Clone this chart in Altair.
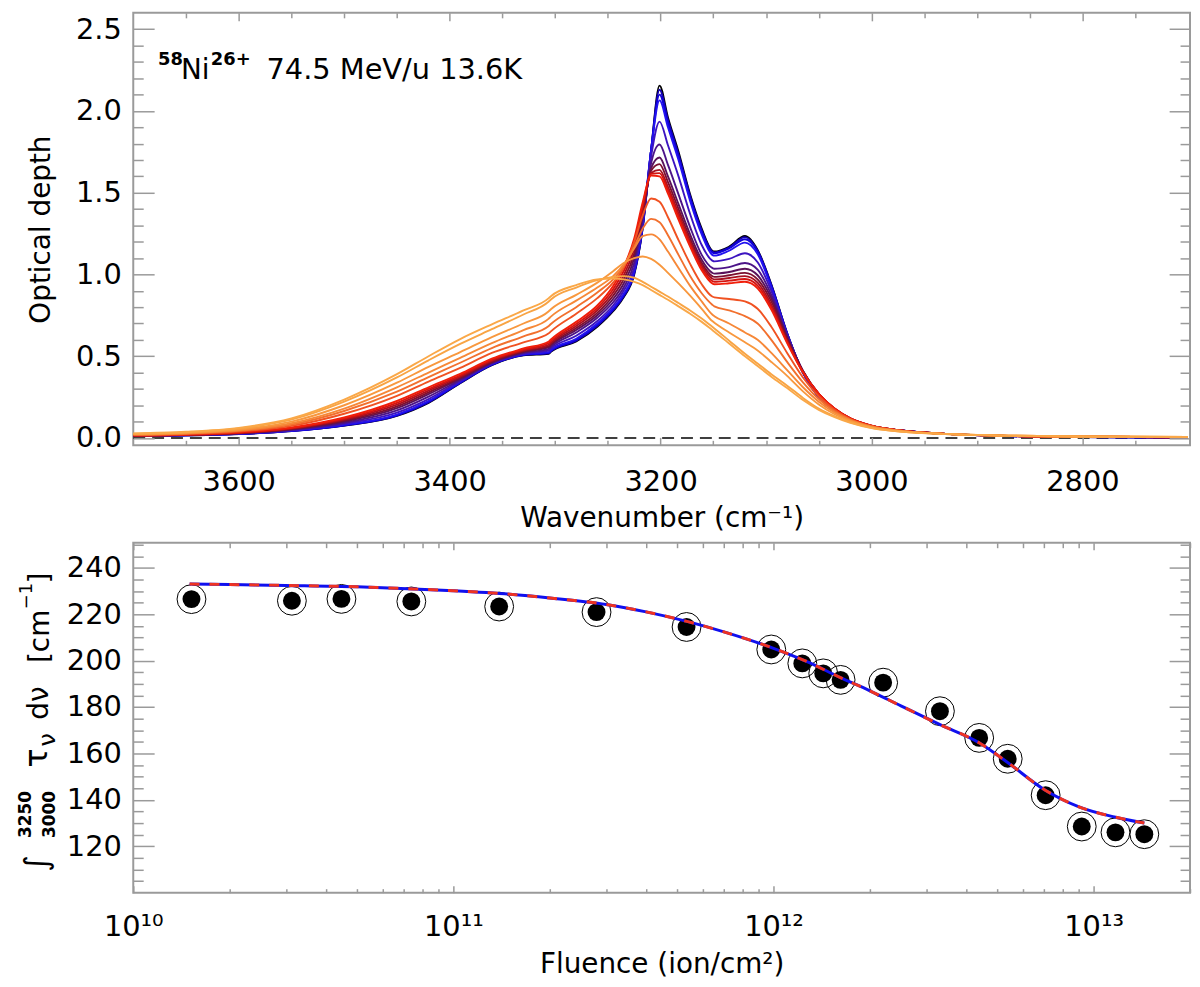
import altair as alt
import pandas as pd

# ------------------------------------------------------------------ data
WAVENUMBER = [3700, 3650, 3600, 3550, 3500, 3450, 3420, 3390, 3360, 3330, 3306, 3304,
              3280, 3260, 3245, 3235, 3225, 3217, 3209, 3201, 3193, 3183, 3172, 3161,
              3151, 3149, 3135, 3120, 3108, 3095, 3080, 3065, 3050, 3035, 3020, 3000,
              2970, 2930, 2870, 2800, 2700]

SPEC_00 = [0.012, 0.016, 0.024, 0.042, 0.075, 0.135, 0.215, 0.335, 0.445, 0.505, 0.515, 0.527,
           0.59, 0.68, 0.775, 0.86, 1.0, 1.28, 1.76, 2.155, 1.96, 1.75, 1.49, 1.28,
           1.145, 1.14, 1.17, 1.235, 1.15, 0.94, 0.64, 0.40, 0.25, 0.165, 0.11, 0.07,
           0.045, 0.025, 0.012, 0.006, 0.002]
SPEC_01 = [0.012, 0.016, 0.024, 0.042, 0.076, 0.137, 0.218, 0.337, 0.447, 0.507, 0.518, 0.530,
           0.595, 0.686, 0.781, 0.866, 1.005, 1.285, 1.76, 2.13, 1.945, 1.735, 1.48, 1.27,
           1.14, 1.135, 1.165, 1.228, 1.145, 0.935, 0.64, 0.40, 0.25, 0.165, 0.11, 0.07,
           0.045, 0.025, 0.012, 0.006, 0.002]
SPEC_02 = [0.012, 0.016, 0.025, 0.043, 0.078, 0.140, 0.222, 0.340, 0.449, 0.509, 0.521, 0.533,
           0.60, 0.692, 0.787, 0.872, 1.01, 1.29, 1.76, 2.10, 1.925, 1.72, 1.465, 1.26,
           1.135, 1.13, 1.16, 1.215, 1.14, 0.93, 0.64, 0.40, 0.25, 0.165, 0.11, 0.07,
           0.045, 0.025, 0.012, 0.006, 0.002]
SPEC_03 = [0.012, 0.016, 0.025, 0.044, 0.080, 0.143, 0.226, 0.343, 0.451, 0.511, 0.525, 0.537,
           0.607, 0.70, 0.795, 0.88, 1.02, 1.30, 1.76, 2.065, 1.90, 1.70, 1.45, 1.245,
           1.12, 1.115, 1.145, 1.195, 1.125, 0.92, 0.635, 0.40, 0.25, 0.165, 0.11, 0.07,
           0.045, 0.025, 0.012, 0.006, 0.002]
SPEC_04 = [0.013, 0.017, 0.027, 0.047, 0.087, 0.155, 0.238, 0.348, 0.455, 0.515, 0.535, 0.547,
           0.625, 0.715, 0.81, 0.90, 1.04, 1.31, 1.72, 1.935, 1.79, 1.60, 1.37, 1.18,
           1.085, 1.08, 1.095, 1.13, 1.075, 0.90, 0.63, 0.405, 0.258, 0.17, 0.113, 0.072,
           0.045, 0.025, 0.012, 0.006, 0.003]
SPEC_05 = [0.013, 0.018, 0.028, 0.050, 0.093, 0.168, 0.253, 0.355, 0.458, 0.52, 0.545, 0.557,
           0.645, 0.735, 0.83, 0.92, 1.07, 1.34, 1.68, 1.795, 1.67, 1.49, 1.29, 1.12,
           1.04, 1.035, 1.045, 1.07, 1.03, 0.875, 0.625, 0.41, 0.265, 0.175, 0.116, 0.073,
           0.044, 0.025, 0.012, 0.007, 0.004]
SPEC_06 = [0.014, 0.018, 0.029, 0.053, 0.10, 0.182, 0.268, 0.362, 0.462, 0.525, 0.555, 0.567,
           0.66, 0.75, 0.85, 0.945, 1.10, 1.36, 1.65, 1.715, 1.60, 1.43, 1.245, 1.09,
           1.01, 1.005, 1.015, 1.035, 0.995, 0.855, 0.615, 0.41, 0.268, 0.177, 0.118, 0.074,
           0.044, 0.025, 0.012, 0.007, 0.004]
SPEC_07 = [0.014, 0.019, 0.030, 0.055, 0.106, 0.193, 0.279, 0.368, 0.466, 0.53, 0.562, 0.574,
           0.672, 0.765, 0.87, 0.97, 1.13, 1.38, 1.635, 1.675, 1.565, 1.40, 1.22, 1.07,
           0.99, 0.985, 0.995, 1.01, 0.97, 0.835, 0.605, 0.408, 0.27, 0.178, 0.119, 0.074,
           0.044, 0.025, 0.012, 0.007, 0.004]
SPEC_08 = [0.015, 0.019, 0.031, 0.057, 0.112, 0.204, 0.29, 0.375, 0.472, 0.535, 0.57, 0.582,
           0.685, 0.78, 0.89, 0.995, 1.16, 1.40, 1.62, 1.64, 1.535, 1.375, 1.20, 1.055,
           0.975, 0.97, 0.978, 0.99, 0.95, 0.815, 0.595, 0.405, 0.27, 0.179, 0.12, 0.075,
           0.044, 0.025, 0.012, 0.007, 0.004]
SPEC_09 = [0.015, 0.020, 0.032, 0.060, 0.118, 0.215, 0.30, 0.383, 0.478, 0.54, 0.58, 0.592,
           0.697, 0.795, 0.91, 1.02, 1.19, 1.42, 1.615, 1.62, 1.515, 1.355, 1.185, 1.04,
           0.96, 0.955, 0.962, 0.972, 0.932, 0.80, 0.588, 0.403, 0.27, 0.18, 0.12, 0.075,
           0.044, 0.025, 0.013, 0.007, 0.004]
SPEC_10 = [0.016, 0.021, 0.034, 0.064, 0.125, 0.226, 0.31, 0.392, 0.485, 0.547, 0.59, 0.602,
           0.71, 0.81, 0.93, 1.045, 1.22, 1.44, 1.605, 1.60, 1.495, 1.335, 1.17, 1.025,
           0.945, 0.94, 0.946, 0.955, 0.915, 0.785, 0.58, 0.40, 0.27, 0.18, 0.12, 0.075,
           0.044, 0.025, 0.013, 0.007, 0.004]
SPEC_11 = [0.018, 0.024, 0.039, 0.074, 0.148, 0.258, 0.345, 0.428, 0.52, 0.585, 0.64, 0.652,
           0.76, 0.855, 0.95, 1.04, 1.20, 1.36, 1.465, 1.445, 1.35, 1.21, 1.065, 0.94,
           0.865, 0.86, 0.85, 0.835, 0.79, 0.68, 0.52, 0.37, 0.255, 0.172, 0.116, 0.073,
           0.043, 0.025, 0.013, 0.008, 0.005]
SPEC_12 = [0.02, 0.027, 0.043, 0.082, 0.165, 0.283, 0.372, 0.46, 0.55, 0.622, 0.685, 0.697,
           0.80, 0.89, 0.97, 1.05, 1.17, 1.28, 1.34, 1.32, 1.24, 1.12, 0.99, 0.885,
           0.815, 0.805, 0.78, 0.745, 0.70, 0.60, 0.465, 0.34, 0.238, 0.163, 0.112, 0.07,
           0.042, 0.025, 0.013, 0.008, 0.005]
SPEC_13 = [0.022, 0.029, 0.047, 0.09, 0.18, 0.31, 0.40, 0.49, 0.58, 0.66, 0.73, 0.742,
           0.84, 0.92, 0.99, 1.06, 1.16, 1.235, 1.245, 1.215, 1.14, 1.04, 0.93, 0.835,
           0.755, 0.745, 0.70, 0.645, 0.60, 0.52, 0.415, 0.31, 0.222, 0.155, 0.108, 0.068,
           0.041, 0.025, 0.014, 0.009, 0.005]
SPEC_14 = [0.024, 0.032, 0.052, 0.10, 0.20, 0.338, 0.435, 0.525, 0.617, 0.70, 0.775, 0.787,
           0.875, 0.95, 1.02, 1.07, 1.10, 1.11, 1.095, 1.06, 1.01, 0.945, 0.87, 0.79,
           0.715, 0.705, 0.645, 0.585, 0.535, 0.465, 0.38, 0.285, 0.205, 0.145, 0.103, 0.066,
           0.04, 0.025, 0.014, 0.009, 0.006]
SPEC_15 = [0.026, 0.035, 0.058, 0.112, 0.222, 0.37, 0.475, 0.575, 0.665, 0.755, 0.835, 0.847,
           0.92, 0.965, 0.985, 0.99, 0.98, 0.955, 0.925, 0.895, 0.865, 0.825, 0.78, 0.73,
           0.68, 0.67, 0.595, 0.515, 0.455, 0.39, 0.32, 0.245, 0.18, 0.133, 0.096, 0.062,
           0.038, 0.024, 0.014, 0.009, 0.006]
SPEC_16 = [0.028, 0.038, 0.062, 0.12, 0.235, 0.39, 0.50, 0.605, 0.695, 0.78, 0.855, 0.867,
           0.935, 0.97, 0.975, 0.97, 0.955, 0.935, 0.905, 0.875, 0.845, 0.805, 0.76, 0.71,
           0.66, 0.65, 0.578, 0.50, 0.44, 0.375, 0.305, 0.232, 0.172, 0.127, 0.092, 0.06,
           0.037, 0.024, 0.014, 0.009, 0.006]

SPECTRA = [SPEC_00, SPEC_01, SPEC_02, SPEC_03, SPEC_04, SPEC_05, SPEC_06, SPEC_07, SPEC_08,
           SPEC_09, SPEC_10, SPEC_11, SPEC_12, SPEC_13, SPEC_14, SPEC_15, SPEC_16]
SPECTRUM_COLORS = ["#000000", "#1400b4", "#1000d8", "#2212f0", "#3c14c0", "#4c1488",
                   "#5a125a", "#7c1030", "#a81020", "#d41410", "#f01e0a", "#f05222",
                   "#f2702e", "#f68838", "#f8983e", "#f8a444", "#faa848"]

ZERO_X = [3700, 2700]
ZERO_Y = [0.0, 0.0]

FLUENCE = [1.52e10, 3.13e10, 4.47e10, 7.39e10, 1.39e11, 2.80e11, 5.35e11, 9.84e11, 1.23e12,
           1.43e12, 1.62e12, 2.20e12, 3.31e12, 4.39e12, 5.39e12, 7.08e12, 9.18e12, 1.17e13,
           1.44e13]
AREA = [226.5, 225.8, 226.6, 225.5, 223.3, 220.9, 214.5, 204.8, 198.8, 194.5, 191.7, 190.5,
        178.2, 166.7, 157.7, 142.0, 128.5, 126.0, 125.2]

FIT_FLUENCE = [1.5e10, 2e10, 3e10, 5e10, 7.5e10, 1e11, 1.5e11, 2e11, 3e11, 4e11, 5.4e11, 7e11,
               1e12, 1.3e12, 1.6e12, 2e12, 2.5e12, 3.3e12, 4.4e12, 5.4e12, 7e12, 9e12,
               1.17e13, 1.44e13]
FIT_AREA = [233.0, 232.8, 232.4, 231.8, 230.9, 230.1, 228.6, 227.0, 224.2, 221.0, 216.8, 212.4,
            205.3, 199.0, 193.0, 187.0, 180.5, 172.5, 164.5, 156.0, 144.5, 137.0, 132.5, 130.0]

# tick positions / labels
X_TOP_MAJOR = [3600, 3400, 3200, 3000, 2800]
X_TOP_MINOR = [3650, 3550, 3500, 3450, 3350, 3300, 3250, 3150, 3100, 3050, 2950, 2900, 2850, 2750]
Y_TOP_MAJOR = [0.0, 0.5, 1.0, 1.5, 2.0, 2.5]
Y_TOP_MINOR = [0.1, 0.2, 0.3, 0.4, 0.6, 0.7, 0.8, 0.9, 1.1, 1.2, 1.3, 1.4, 1.6, 1.7, 1.8, 1.9,
               2.1, 2.2, 2.3, 2.4]
X_BOT_MAJOR = [1e10, 1e11, 1e12, 1e13]
X_BOT_LABELS = ["10¹⁰", "10¹¹", "10¹²", "10¹³"]
X_BOT_MINOR = [2e10, 3e10, 4e10, 5e10, 6e10, 7e10, 8e10, 9e10,
               2e11, 3e11, 4e11, 5e11, 6e11, 7e11, 8e11, 9e11,
               2e12, 3e12, 4e12, 5e12, 6e12, 7e12, 8e12, 9e12, 2e13]
Y_BOT_MAJOR = [120, 140, 160, 180, 200, 220, 240]
Y_BOT_MINOR = [105, 110, 115, 125, 130, 135, 145, 150, 155, 165, 170, 175, 185, 190, 195,
               205, 210, 215, 225, 230, 235, 245, 250]

# ------------------------------------------------------------------ style
FONT = "DejaVu Sans"
GRAY = "#9a9a9a"
W, H1, H2 = 1063, 435, 352

xs_top = alt.Scale(domain=[2698, 3700], reverse=True, nice=False, zero=False)
ys_top = alt.Scale(domain=[-0.045, 2.6], nice=False, zero=False)
xs_bot = alt.Scale(type="log", domain=[1e10, 2e13], nice=False)
ys_bot = alt.Scale(domain=[100, 250.8], nice=False, zero=False)


def tick_axis(orient, values, size, offset):
    return alt.Axis(orient=orient, values=values, tickSize=size, offset=offset, labels=False,
                    domain=False, grid=False, ticks=True, tickColor=GRAY, tickWidth=1.5,
                    title=None, zindex=1)


def label_axis(orient, values, pad, title, title_pad, fmt=None, expr=None):
    kw = dict(orient=orient, values=values, ticks=False, domain=False, grid=False,
              labelFont=FONT, labelFontSize=29, labelColor="black", labelPadding=pad,
              labelFlush=False, labelOverlap=False,
              titleFont=FONT, titleFontSize=28, titleFontWeight="normal", titleColor="black",
              titlePadding=title_pad)
    if fmt is not None:
        kw["format"] = fmt
    if expr is not None:
        kw["labelExpr"] = expr
    kw["title"] = title
    return alt.Axis(**kw)


def carrier(df, xf, yf, xs, ys, xa, ya):
    return alt.Chart(df).mark_point(opacity=0).encode(
        x=alt.X(f"{xf}:Q", scale=xs, axis=xa),
        y=alt.Y(f"{yf}:Q", scale=ys, axis=ya),
    )


def free_text(text, x, y, size, weight="normal", angle=0):
    return alt.Chart(alt.Data(values=[{}])).mark_text(
        text=text, font=FONT, fontSize=size, fontWeight=weight, angle=angle,
        align="left", baseline="alphabetic", color="black",
    ).encode(x=alt.value(x), y=alt.value(y))


# ------------------------------------------------------------------ top panel
zero_df = pd.DataFrame({"wn": ZERO_X, "od": ZERO_Y})

top_layers = [
    carrier(zero_df, "wn", "od", xs_top, ys_top,
            label_axis("bottom", X_TOP_MAJOR, 22, "Wavenumber (cm⁻¹)", 9, fmt="d"),
            label_axis("left", Y_TOP_MAJOR, 12, "Optical depth", 20, fmt=".1f")),
    carrier(zero_df, "wn", "od", xs_top, ys_top,
            tick_axis("top", X_TOP_MAJOR, 8, -H1), tick_axis("right", Y_TOP_MAJOR, 21, -W)),
    carrier(zero_df, "wn", "od", xs_top, ys_top,
            tick_axis("top", X_TOP_MINOR, 5, -H1), tick_axis("right", Y_TOP_MINOR, 10, -W)),
    carrier(zero_df, "wn", "od", xs_top, ys_top,
            tick_axis("bottom", X_TOP_MAJOR, 8, -H1), tick_axis("left", Y_TOP_MAJOR, 21, -W)),
    carrier(zero_df, "wn", "od", xs_top, ys_top,
            tick_axis("bottom", X_TOP_MINOR, 5, -H1), tick_axis("left", Y_TOP_MINOR, 10, -W)),
    alt.Chart(zero_df).mark_line(color="black", strokeWidth=1.5, strokeDash=[12, 7]).encode(
        x=alt.X("wn:Q", scale=xs_top, axis=None), y=alt.Y("od:Q", scale=ys_top, axis=None)),
]

for vals, col in zip(SPECTRA, SPECTRUM_COLORS):
    df = pd.DataFrame({"wn": WAVENUMBER, "od": vals, "idx": list(range(len(WAVENUMBER)))})
    top_layers.append(
        alt.Chart(df).mark_line(color=col, strokeWidth=1.9, interpolate="monotone", clip=True)
        .encode(x=alt.X("wn:Q", scale=xs_top, axis=None),
                y=alt.Y("od:Q", scale=ys_top, axis=None),
                order=alt.Order("idx:Q"))
    )

top_layers += [
    free_text("58", 25, 52, 18, "bold"),
    free_text("Ni", 48, 67, 28),
    free_text("26+", 78, 52, 18, "bold"),
    free_text("74.5 MeV/u 13.6K", 134, 67, 29),
]

top = alt.layer(*top_layers).resolve_axis(x="independent", y="independent").properties(
    width=W, height=H1)

# ------------------------------------------------------------------ bottom panel
pts_df = pd.DataFrame({"f": FLUENCE, "a": AREA})
fit_df = pd.DataFrame({"f": FIT_FLUENCE, "a": FIT_AREA})

bot_expr = " : ".join(f"datum.value == {int(v)} ? '{lab}'"
                      for v, lab in zip(X_BOT_MAJOR, X_BOT_LABELS)) + " : ''"

bot_layers = [
    carrier(pts_df, "f", "a", xs_bot, ys_bot,
            label_axis("bottom", X_BOT_MAJOR, 20, "Fluence (ion/cm²)", 9, expr=bot_expr),
            label_axis("left", Y_BOT_MAJOR, 12, None, 10, fmt="d")),
    carrier(pts_df, "f", "a", xs_bot, ys_bot,
            tick_axis("top", X_BOT_MAJOR, 7, -H2), tick_axis("right", Y_BOT_MAJOR, 21, -W)),
    carrier(pts_df, "f", "a", xs_bot, ys_bot,
            tick_axis("top", X_BOT_MINOR, 4, -H2), tick_axis("right", Y_BOT_MINOR, 10, -W)),
    carrier(pts_df, "f", "a", xs_bot, ys_bot,
            tick_axis("bottom", X_BOT_MAJOR, 7, -H2), tick_axis("left", Y_BOT_MAJOR, 21, -W)),
    carrier(pts_df, "f", "a", xs_bot, ys_bot,
            tick_axis("bottom", X_BOT_MINOR, 5, -H2), tick_axis("left", Y_BOT_MINOR, 10, -W)),
    alt.Chart(pts_df).mark_point(shape="circle", filled=False, size=841, stroke="black",
                                 strokeWidth=1, opacity=1).encode(
        x=alt.X("f:Q", scale=xs_bot, axis=None), y=alt.Y("a:Q", scale=ys_bot, axis=None)),
    alt.Chart(pts_df).mark_circle(size=324, color="black", opacity=1).encode(
        x=alt.X("f:Q", scale=xs_bot, axis=None), y=alt.Y("a:Q", scale=ys_bot, axis=None)),
    alt.Chart(fit_df).mark_line(color="#1010ee", strokeWidth=3, interpolate="monotone").encode(
        x=alt.X("f:Q", scale=xs_bot, axis=None), y=alt.Y("a:Q", scale=ys_bot, axis=None)),
    alt.Chart(fit_df).mark_line(color="#ee3322", strokeWidth=3, strokeDash=[10, 10],
                                interpolate="monotone").encode(
        x=alt.X("f:Q", scale=xs_bot, axis=None), y=alt.Y("a:Q", scale=ys_bot, axis=None)),
    # rotated y title: integral from 3000 to 3250 of tau_nu d nu [cm^-1]
    free_text("∫", -87, 331, 32, angle=270),
    free_text("3250", -103, 297, 17, "bold", angle=270),
    free_text("3000", -79, 297, 17, "bold", angle=270),
    free_text("τ", -87, 226, 32, angle=270),
    free_text("ν", -79, 205, 24, angle=270),
    free_text("dν", -86, 178, 28, angle=270),
    free_text("[cm", -85, 121, 28, angle=270),
    free_text("−1", -102, 67, 18, angle=270),
    free_text("]", -85, 41, 28, angle=270),
]

bottom = alt.layer(*bot_layers).resolve_axis(x="independent", y="independent").properties(
    width=W, height=H2)

chart = alt.vconcat(top, bottom, spacing=7).configure_view(
    stroke=GRAY, strokeWidth=2
).properties(
    padding={"left": 8, "top": 0, "right": 0, "bottom": 5}, background="white"
)

chart.save("out.html", embed_options={"renderer": "svg", "actions": False})
